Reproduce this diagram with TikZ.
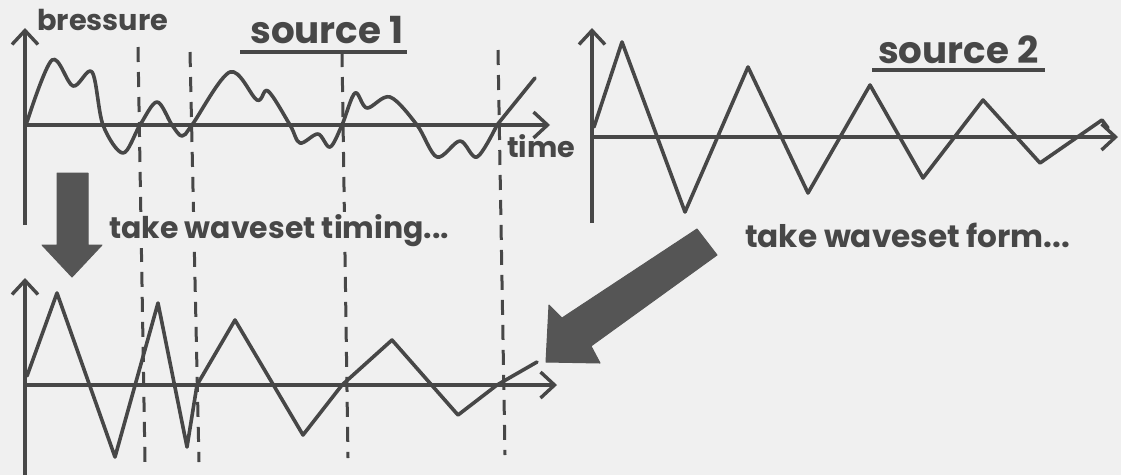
\documentclass[tikz,border=0pt]{standalone}
\usepackage{fontspec}
\setmainfont{Poppins}
\usetikzlibrary{arrows.meta}
\definecolor{bg}{HTML}{F0F0F0}
\definecolor{ink}{HTML}{474747}
\definecolor{fat}{HTML}{555555}
\tikzset{
  axis/.style={draw=ink, line width=4.2pt, -{Straight Barb[length=14pt,width=26pt,line width=3.4pt]}},
  wave/.style={draw=ink, line width=3.6pt, line join=round, line cap=round},
  guide/.style={draw=ink, line width=3pt, dash pattern=on 15pt off 10pt},
  uline/.style={draw=ink, line width=4pt},
  lbl/.style={anchor=base west, inner sep=0pt, text=ink, font=\bfseries},
  fatarrow/.style={fill=fat, draw=fat, line width=1pt, line join=round}
}
\begin{document}
\begin{tikzpicture}[x=1pt,y=-1pt]
\fill[bg] (0,0) rectangle (1121,475);
\useasboundingbox (0,0) rectangle (1121,475);

% named reference points
\coordinate (o1) at (25,125);
\coordinate (o2) at (592,137);
\coordinate (o3) at (25,385);

% dashed waveset boundaries
\draw[guide] (138,47) -- (145,462);
\draw[guide] (190,52) -- (199,462);
\draw[guide] (342,52) -- (348,458);
\draw[guide] (498,50) -- (505,455);

% ---------- source 1 ----------
\draw[axis] (25,225) -- (o1) -- (25,28);
\draw[axis] (o1) -- (550,125);
\draw[wave] plot[smooth, tension=0.55] coordinates {
 (27,122) (52,60) (73,86) (92,72) (103,125) (123,153) (140,125) (157,102)
 (172,125) (182,136) (192,125) (230,72) (257,100) (268,91) (290,125)
 (300,143) (318,134) (330,147) (342,125) (355,93) (367,108) (390,97)
 (417,125) (437,157) (460,141) (477,157) (497,125)} -- (535,78);

\node[lbl] (pr) at (37,30) {\resizebox{131pt}{!}{bressure}};
\node[lbl] (s1) at (250,43) {\resizebox{153pt}{!}{source 1}};
\draw[uline] (240,52) -- (407,52);
\node[lbl] (tm) at (507,157) {\resizebox{68pt}{!}{time}};

% ---------- source 2 ----------
\draw[axis] (592,223) -- (o2) -- (592,28);
\draw[axis] (o2) -- (1118,137);
\draw[wave] (594,127) -- (622,42) -- (685,212) -- (748,67) -- (808,193)
  -- (870,85) -- (923,178) -- (983,100) -- (1040,163) -- (1102,120) -- (1108,128);
\node[lbl] (s2) at (878,63) {\resizebox{160pt}{!}{source 2}};
\draw[uline] (872,70) -- (1045,70);

% ---------- result ----------
\draw[axis] (25,475) -- (o3) -- (25,278);
\draw[axis] (o3) -- (557,385);
\draw[wave] (27,376) -- (57,293) -- (115,457) -- (158,303) -- (187,447)
  -- (197,385) -- (235,320) -- (303,435) -- (342,385) -- (392,340)
  -- (458,415) -- (497,385) -- (537,362);

% labels between rows
\node[lbl, fill=bg, inner sep=2pt] (tt) at (107,238) {\resizebox{340pt}{!}{take waveset timing...}};
\node[lbl] (tf) at (745,247) {\resizebox{325pt}{!}{take waveset form...}};

% fat arrows
\fill[fatarrow] (57,173) -- (88,173) -- (88,245) -- (102,245) -- (72,277) -- (42,245) -- (57,245) -- cycle;
\fill[fatarrow] (697,229) -- (717,255) -- (591,346) -- (600,363) -- (546,362) -- (549,305) -- (562,318) -- cycle;
\end{tikzpicture}
\end{document}
